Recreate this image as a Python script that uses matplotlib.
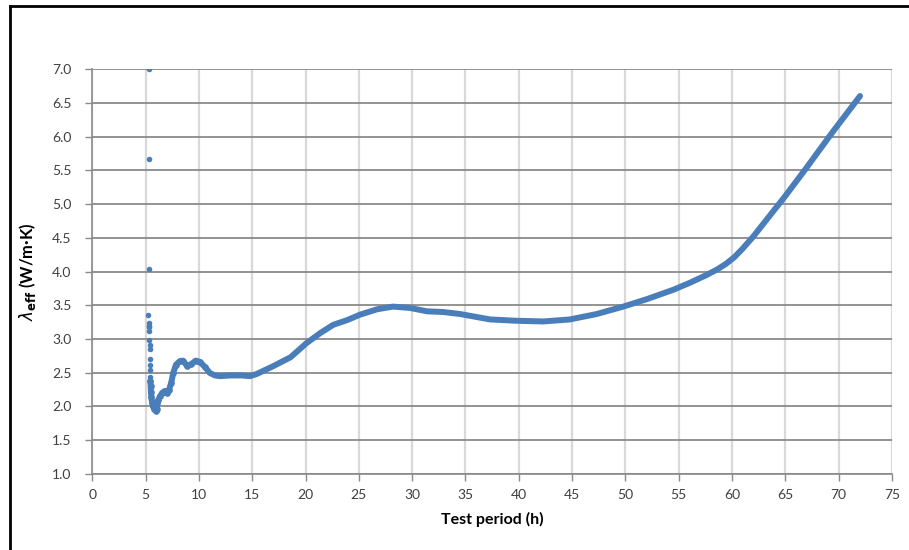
import numpy as np
import matplotlib
from matplotlib import pyplot as plt
from matplotlib.lines import Line2D
plt.switch_backend('agg')

plt.rcParams['font.family'] = ['Lato', 'DejaVu Sans']

# scattered start-up readings near t = 5.3 h
spike_t = [5.30, 5.28, 5.30, 5.25, 5.28, 5.33, 5.33, 5.35, 5.33, 5.38, 5.38, 5.40, 5.40, 5.42, 5.42, 5.45]
spike_v = [7.00, 5.67, 4.04, 3.35, 3.24, 3.20, 3.18, 3.12, 2.98, 2.91, 2.85, 2.70, 2.61, 2.54, 2.44, 2.38]

# main measured curve
t = [5.45, 5.48, 5.50, 5.55, 5.60, 5.70, 5.80, 5.95, 6.05, 6.10, 6.20, 6.35, 6.55,
     6.80, 7.00, 7.20, 7.40, 7.60, 7.85, 8.20, 8.50, 8.90, 9.30, 9.70, 10.1, 10.6,
     11.0, 11.5, 12.0, 13.0, 14.0, 14.8, 15.4, 17.0, 18.6, 20.1, 21.4, 22.6, 23.9,
     25.1, 26.7, 28.2, 29.8, 31.4, 32.9, 34.5, 37.3, 39.8, 42.3, 44.8, 47.3, 49.8,
     52.0, 54.5, 56.0, 57.5, 58.6, 59.4, 60.2, 61.0, 62.0, 63.0, 64.0, 65.0, 66.9,
     69.4, 72.0]
v = [2.38, 2.30, 2.22, 2.14, 2.06, 2.00, 1.97, 1.94, 1.97, 2.05, 2.10, 2.15, 2.20,
     2.23, 2.20, 2.25, 2.35, 2.50, 2.62, 2.67, 2.68, 2.60, 2.63, 2.68, 2.66, 2.58,
     2.50, 2.46, 2.45, 2.46, 2.46, 2.45, 2.48, 2.60, 2.73, 2.94, 3.09, 3.21, 3.28,
     3.36, 3.44, 3.48, 3.46, 3.41, 3.40, 3.37, 3.29, 3.27, 3.26, 3.29, 3.37, 3.48,
     3.59, 3.73, 3.83, 3.94, 4.03, 4.11, 4.21, 4.34, 4.52, 4.72, 4.92, 5.12, 5.52,
     6.06, 6.60]

xticks = np.arange(0, 76, 5)
yticks = np.arange(1.0, 7.01, 0.5)

blue = '#4a7ebb'

fig = plt.figure(figsize=(9.09, 5.5), dpi=100)
ax = fig.add_axes([0.1015, 0.1382, 0.8798, 0.7363])

ax.plot(t, v, color=blue, lw=4.3, solid_capstyle='round', solid_joinstyle='round', zorder=3)
ax.plot(t[:26], v[:26], 'o', color=blue, ms=4.8, mew=0, zorder=3)
ax.plot(spike_t, spike_v, 'o', color=blue, ms=4.0, mew=0, zorder=3)

ax.set_xlim(0, 75)
ax.set_ylim(1.0, 7.0)
ax.set_xticks(xticks)
ax.set_yticks(yticks)
ax.set_xticklabels([str(x) for x in xticks])
ax.set_yticklabels(['%.1f' % y for y in yticks])

ax.xaxis.grid(True, color='#d9d9d9', lw=1.6)
ax.yaxis.grid(True, color='#8a8a8a', lw=1.3)
ax.set_axisbelow(True)
for s in ['top', 'right']:
    ax.spines[s].set_visible(False)
for s in ['left', 'bottom']:
    ax.spines[s].set_color('#8a8a8a')
    ax.spines[s].set_linewidth(1.2)
ax.tick_params(axis='both', direction='out', length=5, width=1.0, color='#8a8a8a',
               labelsize=10, labelcolor='#404040')
ax.tick_params(axis='y', pad=10)
ax.tick_params(axis='x', pad=6)

ax.set_xlabel('Test period (h)', fontsize=11.5, fontweight='bold', labelpad=8)
ax.set_ylabel(r'$\lambda_{\mathbf{eff}}$' + ' (W/m·K)', fontsize=12,
              fontweight='bold', labelpad=10)

# partial frame of the original figure
fig.add_artist(Line2D([0.0115, 0.0115], [0.0, 0.990], transform=fig.transFigure, color='black', lw=2))
fig.add_artist(Line2D([0.0115, 1.0], [0.990, 0.990], transform=fig.transFigure, color='black', lw=2))

fig.savefig('out.png', dpi=100)
